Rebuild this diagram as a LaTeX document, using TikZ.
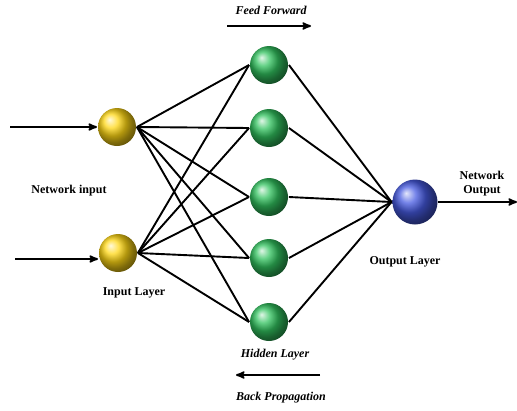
\documentclass[tikz,border=0pt]{standalone}
\usepackage{fontspec}
\setmainfont{Liberation Serif}
\usepackage{tikz}
\usetikzlibrary{shapes,arrows,shadows}

\definecolor{inball}{RGB}{255,215,20}
\definecolor{hidball}{RGB}{50,195,95}
\definecolor{outball}{RGB}{70,90,225}

\begin{document}
\begin{tikzpicture}[x=1pt,y=-1pt,>=stealth',line width=1.9pt,
  font=\fontsize{12}{14}\selectfont\bfseries]
\tikzstyle{neuron}=[circle,minimum size=38pt,inner sep=0pt]
\tikzstyle{input neuron}=[neuron,ball color=inball]
\tikzstyle{hidden neuron}=[neuron,ball color=hidball]
\tikzstyle{output neuron}=[neuron,minimum size=45pt,ball color=outball]
\tikzstyle{caption}=[align=center,inner sep=1pt]
\useasboundingbox (0,0) rectangle (517,410);

% layers
\node[input neuron] (I1) at (117,127) {};
\node[input neuron] (I2) at (118,253) {};
\foreach \j/\y in {1/65,2/128,3/197,4/258,5/322}
  \node[hidden neuron] (H\j) at (269,\y) {};
\node[output neuron] (O) at (415,202) {};

% weights
\foreach \i in {1,2}
  \foreach \j in {1,...,5}
    \draw (I\i.east) -- (H\j.west);
\foreach \j in {1,...,5}
  \draw (H\j.east) -- (O.west);

% inputs and output
\coordinate (in1) at (10,127);
\coordinate (in2) at (15,259);
\coordinate (out) at (517,202);
\draw[->] (in1) -- (I1.west);
\draw[->] (in2) -- (in2 -| I2.west);
\draw[->] (O.east) -- (out);

% labels
\node[caption] (netin) at (69,191) {Network input};
\node[caption] (inlayer) at (134,293) {Input Layer};
\node[caption] (hidlayer) at (275,355) {\itshape Hidden Layer};
\node[caption] (outlayer) at (405,262) {Output Layer};
\node[caption] (netout) at (482,184) {Network\\Output};

% directions
\node[caption] (ff) at (271,10) {\itshape Feed Forward};
\node[caption] (bp) at (281,398) {\itshape Back Propagation};
\coordinate (ffa) at (227,26);
\coordinate (ffb) at (311,26);
\coordinate (bpa) at (320,375);
\coordinate (bpb) at (236,375);
\draw[->] (ffa) -- (ffb);
\draw[->] (bpa) -- (bpb);
\end{tikzpicture}
\end{document}
